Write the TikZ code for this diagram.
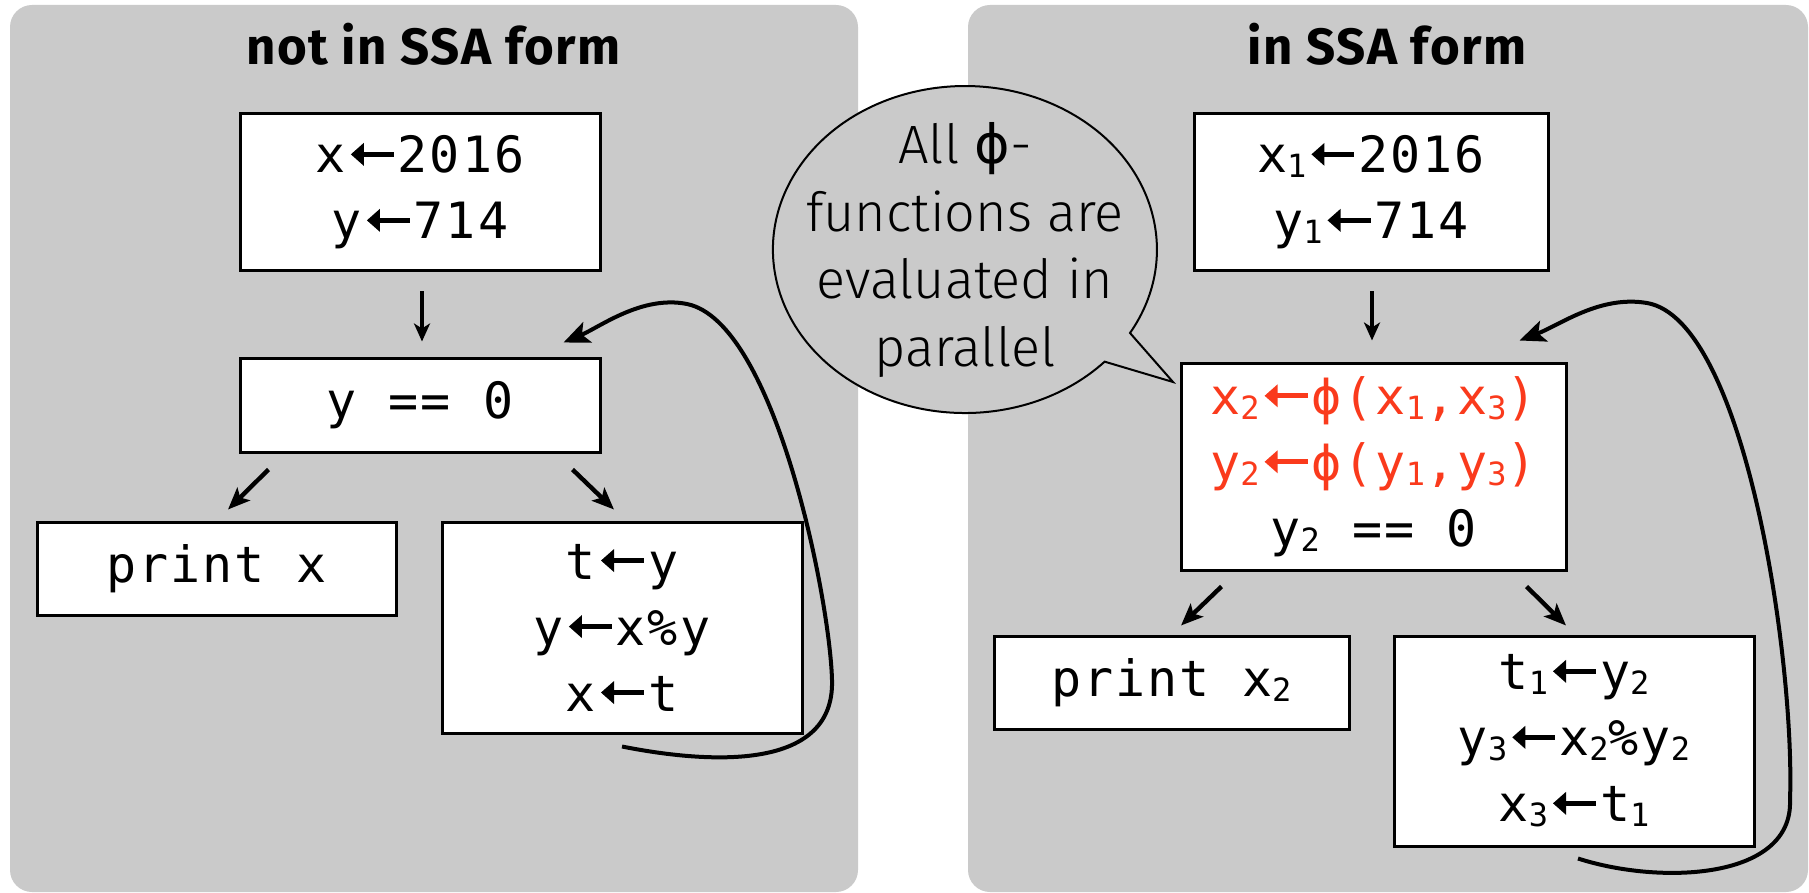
\documentclass[tikz,border=0pt]{standalone}
\usepackage{fontspec}
\usetikzlibrary{arrows.meta}
\setmainfont{Fira Sans}
\newfontfamily\codefont{DejaVu Sans Mono}[LetterSpace=4]
\newfontfamily\bubfont{Fira Sans Light}
\newfontfamily\phifont{DejaVu Sans}
\newcommand\myphi{\char"03D5\relax}
\newcommand\sub[1]{\raisebox{-2.5pt}{\fontsize{16}{16}\selectfont#1}}
\newcommand\larr{\tikz[x=1pt,y=1pt,baseline=0pt]{\path (0,0) rectangle (26,0);
  \fill (2.5,9.25) -- (9,15) -- (9,3.5) -- cycle;
  \fill (8,8.1) rectangle (24,10.4);}}
\definecolor{panelgray}{RGB}{202,202,202}
\definecolor{phired}{RGB}{250,58,28}
\begin{document}
\begin{tikzpicture}[x=0.5pt,y=-0.5pt,
  panel/.style={fill=panelgray, rounded corners=11pt},
  title/.style={font=\fontsize{25.5}{28}\selectfont\bfseries\addfontfeatures{LetterSpace=3}, anchor=base, inner sep=0},
  codebox/.style={draw, line width=1.5pt, fill=white, inner sep=0, align=center,
    font=\codefont\fontsize{25}{33}\selectfont},
  vflow/.style={line width=1.6pt, -{Stealth[length=9pt,width=8pt,inset=2.5pt]}},
  dflow/.style={line width=2.2pt, -{Stealth[length=11pt,width=9pt,inset=2.5pt]}},
  loopflow/.style={line width=2pt, -{Stealth[length=13pt,width=11pt,inset=3pt]}},
]
\useasboundingbox (0,0) rectangle (1809,893);
\fill[panel] (10,5) rectangle (858,892);
\fill[panel] (968,5) rectangle (1808,892);

\node[title] (t1) at (433.5,65) {not in SSA form};
\node[title] (t2) at (1387,65) {in SSA form};

% speech bubble
\draw[fill=panelgray, line width=1pt] (1130,333) arc[start angle=30.7, end angle=-316.7, x radius=192, y radius=163.5] -- (1173,382) -- cycle;
\node[font=\bubfont\fontsize{27}{33.8}\selectfont, align=center, inner sep=0] (bub) at (965,250)
  {All {\phifont\myphi}-\\functions are\\evaluated in\\parallel};

% left panel
\node[codebox, minimum width=180pt, minimum height=78.5pt] (A) at (420,192.5) {x\larr 2016\\y\larr 714};
\node[codebox, minimum width=180pt, minimum height=47pt] (B) at (420,405) {y == 0};
\node[codebox, minimum width=179.5pt, minimum height=46.5pt] (C) at (216.5,568.5) {print x};
\node[codebox, minimum width=180pt, minimum height=105.5pt] (D) at (622,627.5) {t\larr y\\y\larr x\%y\\x\larr t};

\draw[vflow] ([shift={(2,19)}]A.south) -- ([shift={(2,-15)}]B.north);
\draw[dflow] ([shift={(30,16)}]B.south west) -- ([shift={(11.5,-11)}]C.north);
\draw[dflow] ([shift={(-29,16)}]B.south east) -- ([shift={(-8,-11)}]D.north);
\draw[loopflow] ([shift={(0,12)}]D.south) .. controls (700,762) and (835,775) .. (832,680)
  .. controls (830,600) and (775,322) .. (687,304)
  .. controls (642,295) and (600,327) .. ([shift={(-38,-14)}]B.north east);

% right panel
\node[codebox, minimum width=177pt, minimum height=78.5pt] (A2) at (1371,192.5) {x\sub1\larr 2016\\y\sub1\larr 714};
\node[codebox, minimum width=192.5pt, minimum height=103.5pt] (B2) at (1373.5,466.5)
  {{\color{phired}x\sub2\larr\myphi(x\sub1,x\sub3)}\\{\color{phired}y\sub2\larr\myphi(y\sub1,y\sub3)}\\y\sub2 == 0};
\node[codebox, minimum width=177.5pt, minimum height=46.5pt] (C2) at (1171.5,682.5) {print x\sub2};
\node[codebox, minimum width=180pt, minimum height=105pt] (D2) at (1574,741) {t\sub1\larr y\sub2\\y\sub3\larr x\sub2\%y\sub2\\x\sub3\larr t\sub1};

\draw[vflow] ([shift={(1,19)}]A2.south) -- ([shift={(-1.5,-21)}]B2.north);
\draw[dflow] ([shift={(42,15)}]B2.south west) -- ([shift={(9.5,-9)}]C2.north);
\draw[dflow] ([shift={(-41,15)}]B2.south east) -- ([shift={(-8,-9)}]D2.north);
\draw[loopflow] ([shift={(4,11)}]D2.south) .. controls (1660,885) and (1793,880) .. (1790,800)
  .. controls (1795,660) and (1745,320) .. (1647,303)
  .. controls (1600,295) and (1560,325) .. ([shift={(-48,-21)}]B2.north east);
\end{tikzpicture}
\end{document}
